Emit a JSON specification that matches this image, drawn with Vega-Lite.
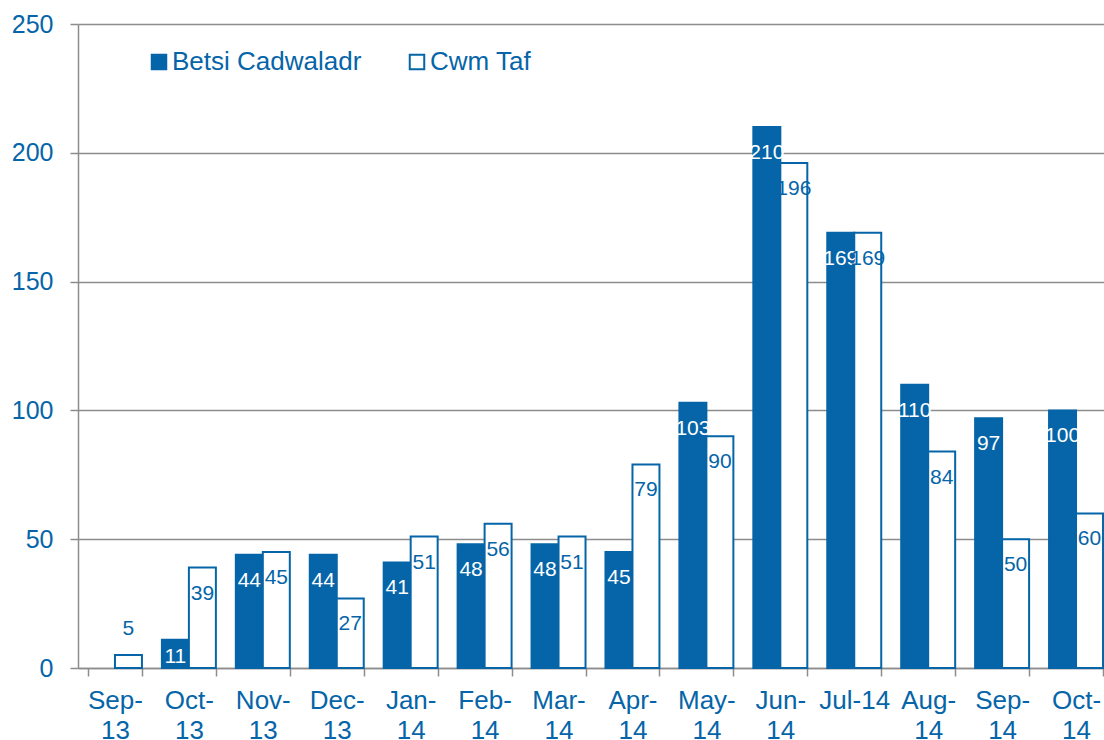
{
  "$schema": "https://vega.github.io/schema/vega-lite/v6.json",
  "width": 1035,
  "height": 644,
  "autosize": {"type": "none"},
  "padding": {"left": 78, "top": 24, "right": -9, "bottom": 72},
  "background": "white",
  "config": {
    "view": {"stroke": null},
    "font": "Liberation Sans",
    "axis": {"labelFont": "Liberation Sans", "labelColor": "#0565A8", "labelFontSize": 25, "domainColor": "#8c8c8c", "tickColor": "#8c8c8c", "gridColor": "#8c8c8c", "domainWidth": 1.5, "tickWidth": 1.5, "gridWidth": 1.5, "title": null}
  },
  "data": {"values": [
    {"month": "Sep-13", "series": "Betsi Cadwaladr", "value": 0},
    {"month": "Oct-13", "series": "Betsi Cadwaladr", "value": 11},
    {"month": "Nov-13", "series": "Betsi Cadwaladr", "value": 44},
    {"month": "Dec-13", "series": "Betsi Cadwaladr", "value": 44},
    {"month": "Jan-14", "series": "Betsi Cadwaladr", "value": 41},
    {"month": "Feb-14", "series": "Betsi Cadwaladr", "value": 48},
    {"month": "Mar-14", "series": "Betsi Cadwaladr", "value": 48},
    {"month": "Apr-14", "series": "Betsi Cadwaladr", "value": 45},
    {"month": "May-14", "series": "Betsi Cadwaladr", "value": 103},
    {"month": "Jun-14", "series": "Betsi Cadwaladr", "value": 210},
    {"month": "Jul-14", "series": "Betsi Cadwaladr", "value": 169},
    {"month": "Aug-14", "series": "Betsi Cadwaladr", "value": 110},
    {"month": "Sep-14", "series": "Betsi Cadwaladr", "value": 97},
    {"month": "Oct-14", "series": "Betsi Cadwaladr", "value": 100},
    {"month": "Sep-13", "series": "Cwm Taf", "value": 5},
    {"month": "Oct-13", "series": "Cwm Taf", "value": 39},
    {"month": "Nov-13", "series": "Cwm Taf", "value": 45},
    {"month": "Dec-13", "series": "Cwm Taf", "value": 27},
    {"month": "Jan-14", "series": "Cwm Taf", "value": 51},
    {"month": "Feb-14", "series": "Cwm Taf", "value": 56},
    {"month": "Mar-14", "series": "Cwm Taf", "value": 51},
    {"month": "Apr-14", "series": "Cwm Taf", "value": 79},
    {"month": "May-14", "series": "Cwm Taf", "value": 90},
    {"month": "Jun-14", "series": "Cwm Taf", "value": 196},
    {"month": "Jul-14", "series": "Cwm Taf", "value": 169},
    {"month": "Aug-14", "series": "Cwm Taf", "value": 84},
    {"month": "Sep-14", "series": "Cwm Taf", "value": 50},
    {"month": "Oct-14", "series": "Cwm Taf", "value": 60}
  ]},
  "encoding": {
    "x": {
      "field": "month", "type": "nominal", "sort": null,
      "scale": {"domain": ["Sep-13", "Oct-13", "Nov-13", "Dec-13", "Jan-14", "Feb-14", "Mar-14", "Apr-14", "May-14", "Jun-14", "Jul-14", "Aug-14", "Sep-14", "Oct-14"], "paddingInner": 0.27, "paddingOuter": 0.135},
      "axis": {
        "labelAngle": 0, "tickBand": "extent", "tickSize": 8, "labelPadding": 11, "labelFontSize": 26,
        "labelBaseline": "top", "labelLineHeight": 30,
        "labelExpr": "datum.label == 'Jul-14' ? datum.label : [slice(datum.label, 0, 4), slice(datum.label, 4)]"
      }
    },
    "xOffset": {"field": "series", "type": "nominal", "scale": {"domain": ["Betsi Cadwaladr", "Cwm Taf"], "paddingInner": 0, "paddingOuter": 0}},
    "y": {
      "field": "value", "type": "quantitative",
      "scale": {"domain": [0, 250], "nice": false},
      "axis": {"values": [0, 50, 100, 150, 200, 250], "tickSize": 8, "labelPadding": 17, "grid": true, "domain": true}
    }
  },
  "layer": [
    {
      "transform": [{"filter": "datum.value > 0"}],
      "mark": {"type": "bar", "strokeWidth": 2},
      "encoding": {
        "fill": {
          "field": "series", "type": "nominal",
          "scale": {"domain": ["Betsi Cadwaladr", "Cwm Taf"], "range": ["#0565A8", "#ffffff"]},
          "legend": {"title": null, "orient": "none", "legendX": 68, "legendY": 25, "direction": "horizontal", "symbolType": "square", "symbolSize": 210, "symbolStrokeWidth": 2, "labelFontSize": 26, "labelColor": "#0565A8", "labelFont": "Liberation Sans", "labelOffset": 0, "labelLimit": 400, "columnPadding": 42}
        },
        "stroke": {
          "field": "series", "type": "nominal",
          "scale": {"domain": ["Betsi Cadwaladr", "Cwm Taf"], "range": ["#0565A8", "#0565A8"]},
          "legend": {"title": null, "orient": "none", "legendX": 68, "legendY": 25, "direction": "horizontal", "symbolType": "square", "symbolSize": 210, "symbolStrokeWidth": 2, "labelFontSize": 26, "labelColor": "#0565A8", "labelFont": "Liberation Sans", "labelOffset": 0, "labelLimit": 400, "columnPadding": 42}
        }
      }
    },
    {
      "transform": [{"filter": "datum.value >= 20"}],
      "mark": {"type": "text", "baseline": "middle", "align": "center", "dy": 26, "fontSize": 21, "font": "Liberation Sans"},
      "encoding": {
        "text": {"field": "value", "type": "quantitative"},
        "color": {"condition": {"test": "datum.series == 'Betsi Cadwaladr'", "value": "#ffffff"}, "value": "#0565A8"}
      }
    },
    {
      "transform": [{"filter": "datum.value >= 10 && datum.value < 20"}],
      "mark": {"type": "text", "baseline": "middle", "align": "center", "dy": 17, "fontSize": 21, "font": "Liberation Sans"},
      "encoding": {
        "text": {"field": "value", "type": "quantitative"},
        "color": {"condition": {"test": "datum.series == 'Betsi Cadwaladr'", "value": "#ffffff"}, "value": "#0565A8"}
      }
    },
    {
      "transform": [{"filter": "datum.value > 0 && datum.value < 10"}],
      "mark": {"type": "text", "baseline": "middle", "align": "center", "dy": -26, "fontSize": 21, "font": "Liberation Sans"},
      "encoding": {
        "text": {"field": "value", "type": "quantitative"},
        "color": {"value": "#0565A8"}
      }
    }
  ]
}
